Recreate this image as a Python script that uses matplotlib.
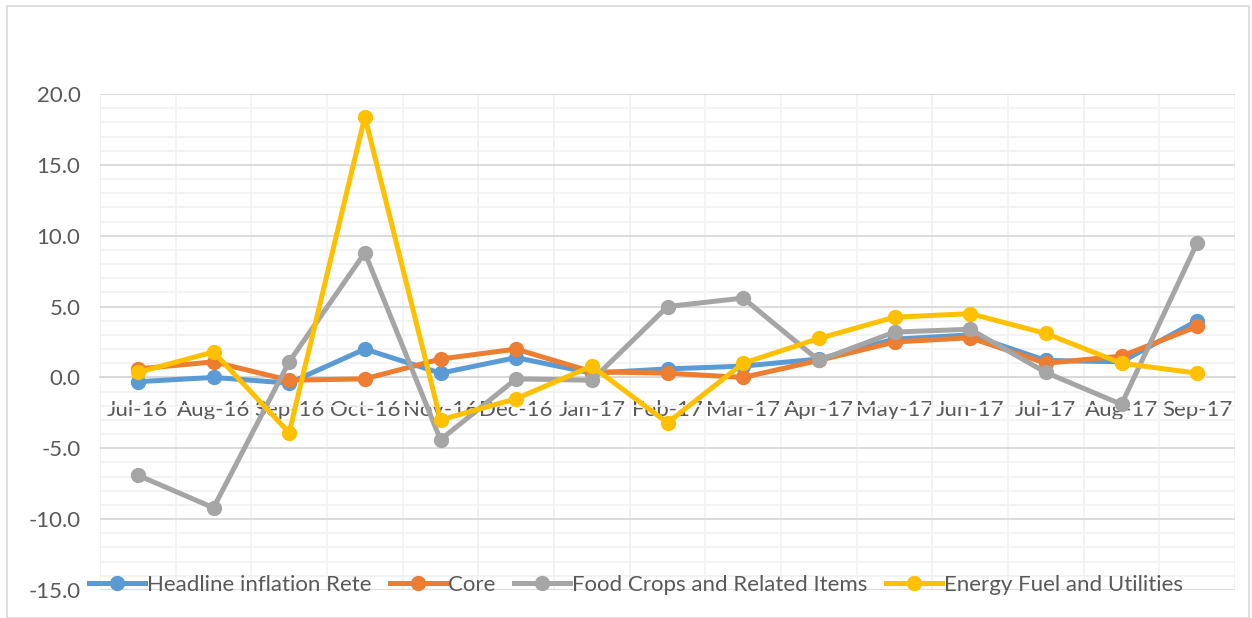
import matplotlib.pyplot as plt
from matplotlib.lines import Line2D
from matplotlib.patches import Rectangle
import numpy as np

# Monthly inflation components (%)
months = ["Jul-16", "Aug-16", "Sep-16", "Oct-16", "Nov-16", "Dec-16", "Jan-17",
          "Feb-17", "Mar-17", "Apr-17", "May-17", "Jun-17", "Jul-17", "Aug-17", "Sep-17"]
headline = [-0.3, 0.0, -0.4, 2.0, 0.3, 1.4, 0.3, 0.6, 0.8, 1.3, 2.7, 3.0, 1.2, 1.1, 4.0]
core = [0.6, 1.1, -0.2, -0.1, 1.3, 2.0, 0.4, 0.3, 0.0, 1.2, 2.5, 2.8, 1.0, 1.5, 3.6]
food = [-6.9, -9.2, 1.1, 8.8, -4.4, -0.1, -0.2, 5.0, 5.6, 1.2, 3.2, 3.4, 0.35, -1.9, 9.5]
energy = [0.35, 1.8, -3.9, 18.4, -3.0, -1.5, 0.8, -3.2, 1.0, 2.75, 4.25, 4.5, 3.1, 1.0, 0.3]

series_names = ["Headline inflation Rete", "Core", "Food Crops and Related Items",
                "Energy Fuel and Utilities"]
SERIES_COLORS = ["#5B9BD5", "#ED7D31", "#A5A5A5", "#FFC000"]

TXT = "#595959"
MAJOR = "#D9D9D9"
MINOR = "#F2F2F2"
FS = 16

plt.rcParams.update({"font.family": ["Lato", "DejaVu Sans"], "font.size": FS})

fig = plt.figure(figsize=(12.52, 6.18), dpi=100)
W, H = 1252, 618
ax = fig.add_axes([100 / W, 1 - 590 / H, (1235 - 100) / W, (590 - 94) / H])

# outer chart frame
fig.patches.append(Rectangle((7 / W, 0), (1249 - 7) / W, 1 - 6 / H,
                             transform=fig.transFigure, fill=False,
                             edgecolor=MAJOR, lw=1.2))

x = np.arange(len(months)) + 0.5
for vals, name, c in zip([headline, core, food, energy], series_names, SERIES_COLORS):
    ax.plot(x, vals, color=c, lw=3.6, marker="o", ms=10, label=name,
            solid_joinstyle="round", zorder=3)

ax.set_xlim(0, len(months))
ax.set_ylim(-15, 20)
ax.set_yticks(np.arange(-15, 21, 5))
ax.set_yticklabels([f"{v:.1f}" for v in np.arange(-15, 21, 5)])
ax.set_yticks(np.arange(-15, 21, 1), minor=True)
ax.set_xticks(np.arange(0, len(months) + 1), minor=True)
ax.set_xticks(x)
ax.set_xticklabels(months)

ax.grid(axis="y", which="major", color=MAJOR, lw=1.3, zorder=0)
ax.grid(axis="y", which="minor", color=MINOR, lw=1.3, zorder=0)
ax.grid(axis="x", which="minor", color=MINOR, lw=1.3, zorder=0)
ax.set_axisbelow(True)

for s in ["top", "right", "left"]:
    ax.spines[s].set_visible(False)
ax.spines["bottom"].set_position(("data", 0))
ax.spines["bottom"].set_color(MAJOR)
ax.spines["bottom"].set_linewidth(1.3)

ax.tick_params(axis="x", which="both", length=0, pad=16, colors=TXT, labelsize=FS)
ax.tick_params(axis="y", which="both", length=0, pad=14, colors=TXT, labelsize=FS)

handles = [Line2D([], [], color=c, lw=3.6, marker="o", ms=10) for c in SERIES_COLORS]
fig.legend(handles, series_names, loc="center", ncol=4,
           bbox_to_anchor=(636 / W, 1 - 585 / H), frameon=False,
           handlelength=2.5, handletextpad=0.1, columnspacing=0.85,
           fontsize=FS, labelcolor=TXT)

fig.savefig("out.png", dpi=100)
